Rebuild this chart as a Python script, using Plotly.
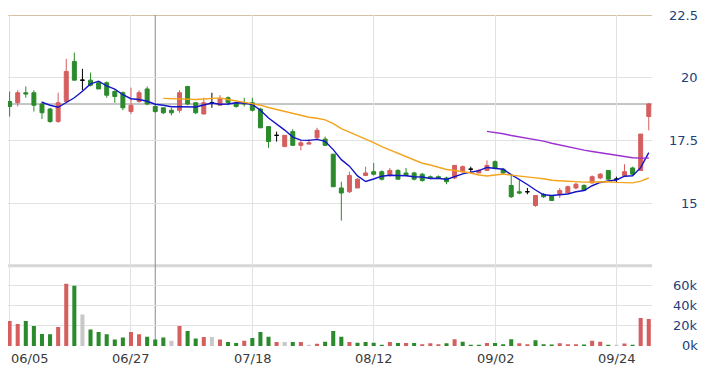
import plotly.graph_objects as go
import pandas as pd

# ---------------- data ----------------
dates = [
    "2024-06-05", "2024-06-06", "2024-06-07", "2024-06-11", "2024-06-12", "2024-06-13", "2024-06-14",
    "2024-06-17", "2024-06-18", "2024-06-19", "2024-06-20", "2024-06-21", "2024-06-24", "2024-06-25",
    "2024-06-26", "2024-06-27", "2024-06-28", "2024-07-01", "2024-07-02", "2024-07-03", "2024-07-04",
    "2024-07-05", "2024-07-08", "2024-07-09", "2024-07-10", "2024-07-11", "2024-07-12", "2024-07-15",
    "2024-07-16", "2024-07-17", "2024-07-18", "2024-07-19", "2024-07-22", "2024-07-23", "2024-07-26",
    "2024-07-29", "2024-07-30", "2024-07-31", "2024-08-01", "2024-08-02", "2024-08-05", "2024-08-06",
    "2024-08-07", "2024-08-08", "2024-08-09", "2024-08-12", "2024-08-13", "2024-08-14", "2024-08-15",
    "2024-08-16", "2024-08-19", "2024-08-20", "2024-08-21", "2024-08-22", "2024-08-23", "2024-08-26",
    "2024-08-27", "2024-08-28", "2024-08-29", "2024-08-30", "2024-09-02", "2024-09-03", "2024-09-04",
    "2024-09-05", "2024-09-06", "2024-09-09", "2024-09-10", "2024-09-11", "2024-09-12", "2024-09-13",
    "2024-09-16", "2024-09-18", "2024-09-19", "2024-09-20", "2024-09-23", "2024-09-24", "2024-09-25",
    "2024-09-26", "2024-09-27", "2024-09-30",
]

opens = [
    19.05, 19.0, 19.4, 19.4, 18.95, 18.75, 18.25, 19.05, 20.65, 19.9,
    19.9, 19.8, 19.8, 19.45, 19.4, 18.65, 19.05, 19.55, 18.85, 18.8,
    18.7, 18.7, 19.65, 19.0, 18.55, 19.0, 18.9, 19.2, 19.0, 19.0,
    19.0, 18.75, 18.05, 17.7, 17.25, 17.85, 17.3, 17.35, 17.6, 17.55,
    16.95, 15.6, 15.45, 15.6, 16.1, 16.25, 16.25, 16.1, 16.3, 16.2,
    16.2, 16.15, 16.05, 16.05, 16.0, 16.0, 16.25, 16.35, 16.2, 16.3,
    16.65, 16.35, 15.7, 15.45, 15.45, 14.9, 15.35, 15.3, 15.35, 15.4,
    15.6, 15.7, 15.8, 16.0, 16.3, 15.95, 16.1, 16.4, 16.3, 18.45,
]
highs = [
    19.45, 19.5, 19.65, 19.5, 19.05, 18.8, 19.4, 20.75, 21.0, 20.35,
    20.2, 19.85, 19.85, 19.5, 19.45, 19.6, 19.5, 19.65, 18.9, 18.8,
    18.8, 19.5, 19.65, 19.0, 19.2, 19.4, 19.3, 19.25, 19.05, 19.2,
    19.2, 18.8, 18.05, 17.85, 17.7, 17.95, 17.5, 17.55, 18.0, 17.65,
    16.95, 15.85, 16.25, 16.0, 16.45, 16.6, 16.3, 16.4, 16.35, 16.4,
    16.25, 16.2, 16.1, 16.1, 16.05, 16.5, 16.5, 16.45, 16.35, 16.7,
    16.7, 16.4, 16.1, 15.9, 15.6, 15.3, 15.4, 15.3, 15.6, 15.7,
    15.8, 15.75, 16.1, 16.2, 16.3, 16.05, 16.55, 16.45, 17.75, 19.0,
]
lows = [
    18.45, 18.85, 19.2, 18.65, 18.35, 18.2, 18.2, 19.05, 19.9, 19.5,
    19.65, 19.55, 19.2, 19.0, 18.7, 18.55, 19.0, 18.9, 18.6, 18.55,
    18.5, 18.6, 18.9, 18.55, 18.55, 18.8, 18.9, 18.9, 18.8, 18.85,
    18.65, 18.0, 17.2, 17.45, 17.25, 17.3, 17.1, 17.35, 17.55, 17.3,
    15.65, 14.3, 15.4, 15.6, 16.1, 16.1, 15.9, 16.05, 15.95, 16.1,
    15.9, 15.85, 15.95, 15.95, 15.75, 15.95, 16.2, 16.2, 16.2, 16.3,
    16.35, 16.15, 15.2, 15.35, 15.35, 14.85, 15.2, 15.1, 15.2, 15.4,
    15.55, 15.5, 15.8, 15.95, 15.9, 15.8, 16.05, 16.1, 16.3, 17.9,
]
closes = [
    18.85, 19.4, 19.35, 18.9, 18.6, 18.25, 19.0, 20.25, 19.9, 19.9,
    19.7, 19.55, 19.3, 19.25, 18.8, 18.9, 19.4, 18.95, 18.65, 18.6,
    18.6, 19.4, 18.95, 18.6, 19.0, 19.0, 19.15, 19.0, 18.85, 18.95,
    18.7, 18.0, 17.45, 17.7, 17.7, 17.3, 17.4, 17.4, 17.9, 17.3,
    15.65, 15.4, 16.1, 15.95, 16.2, 16.15, 15.95, 16.3, 15.95, 16.1,
    15.95, 15.9, 16.0, 16.0, 15.85, 16.5, 16.45, 16.35, 16.3, 16.5,
    16.4, 16.2, 15.25, 15.4, 15.45, 15.3, 15.25, 15.1, 15.5, 15.65,
    15.75, 15.5, 16.05, 16.15, 15.95, 15.95, 16.25, 16.15, 17.75, 18.95,
]
# volume in thousands of shares
volume_k = [
    25, 22, 25, 20, 12, 11.7, 19, 62, 60, 31.5,
    16.4, 14, 11.8, 6.6, 8.5, 14, 11.8, 9.2, 6.6, 8.5,
    5.3, 20, 15, 7.5, 8.9, 8.9, 6.5, 3.9, 3.0, 5.2,
    7.9, 14, 9.2, 3.9, 4.0, 4.0, 4.0, 1.0, 2.3, 4.3,
    15, 9.2, 4.0, 3.3, 4.0, 3.3, 1.3, 4.0, 3.0, 3.0,
    3.0, 1.7, 2.7, 1.7, 2.7, 6.7, 4.3, 1.3, 1.3, 3.0,
    3.0, 1.7, 6.7, 2.7, 1.7, 5.7, 1.7, 1.5, 2.7, 1.7,
    1.7, 1.5, 5.3, 4.3, 0.4, 0.4, 2.5, 1.0, 28, 27,
]
# u = up (red), d = down (green), n = unchanged (gray)
volume_dir = ("uudddduudn" "ddddduuddd" "nuddunuddu" "dddundunud"
              "dduddddudu" "duuududddu" "ddduuddduu" "uduudnuduu")

tick_index = [0, 15, 30, 45, 60, 75]
tick_text = ["06/05", "06/27", "07/18", "08/12", "09/02", "09/24"]
price_ticks = [15, 17.5, 20, 22.5]
volume_ticks = [0, 20, 40, 60]
ma_windows = [5, 20, 60]
cursor_index = 18

# ---------------- styles ----------------
RED = "#d55e5e"
GREEN = "#2b8a2b"
GRAY = "#c8c8c8"
MA_COLORS = {5: "#1414c8", 20: "#f4a41c", 60: "#9b30d0"}
GRID = "#e2e2e2"
AXIS_TXT = "#23407a"
X_TXT = "#3a3a3a"
FONT = "DejaVu Sans"

n = len(dates)
non_doji = [i for i in range(n) if opens[i] != closes[i]]
doji = [i for i in range(n) if opens[i] == closes[i]]

fig = go.Figure()

fig.add_trace(go.Candlestick(
    x=[dates[i] for i in non_doji],
    open=[opens[i] for i in non_doji], high=[highs[i] for i in non_doji],
    low=[lows[i] for i in non_doji], close=[closes[i] for i in non_doji],
    increasing=dict(line=dict(color=RED, width=1), fillcolor=RED),
    decreasing=dict(line=dict(color=GREEN, width=1), fillcolor=GREEN),
    xaxis="x", yaxis="y", showlegend=False, hoverinfo="skip",
))
fig.add_trace(go.Candlestick(
    x=[dates[i] for i in doji],
    open=[opens[i] for i in doji], high=[highs[i] for i in doji],
    low=[lows[i] for i in doji], close=[closes[i] for i in doji],
    increasing=dict(line=dict(color="#000000", width=1), fillcolor="#000000"),
    decreasing=dict(line=dict(color="#000000", width=1), fillcolor="#000000"),
    xaxis="x", yaxis="y", showlegend=False, hoverinfo="skip",
))

close_series = pd.Series(closes)
for w in ma_windows:
    ma = close_series.rolling(w).mean()
    fig.add_trace(go.Scatter(
        x=dates, y=ma, mode="lines", line=dict(color=MA_COLORS[w], width=1.4),
        xaxis="x", yaxis="y", showlegend=False, hoverinfo="skip", connectgaps=False,
    ))

dir_color = {"u": RED, "d": GREEN, "n": GRAY}
fig.add_trace(go.Bar(
    x=dates, y=volume_k, marker=dict(color=[dir_color[c] for c in volume_dir], line=dict(width=0)),
    width=0.5, xaxis="x", yaxis="y2", showlegend=False, hoverinfo="skip",
))

split = 0.2426  # boundary between volume pane and price pane (paper coords)

# the page body adds an 8px offset, so the figure is drawn 8px smaller
fig.update_layout(
    width=704, height=362,
    margin=dict(l=0, r=60, t=7, b=24),
    paper_bgcolor="white", plot_bgcolor="white",
    font=dict(family=FONT, size=13),
    xaxis=dict(
        type="category", categoryorder="array", categoryarray=dates,
        range=[-0.2, n - 0.6], anchor="y2",
        tickvals=[dates[i] for i in tick_index], showticklabels=False,
        showgrid=True, gridcolor=GRID, gridwidth=1, zeroline=False,
        showline=False, ticks="", rangeslider=dict(visible=False), fixedrange=True,
    ),
    yaxis=dict(
        domain=[split, 1], range=[12.5, 22.5], tickvals=price_ticks[:-1],
        showticklabels=False, showgrid=True, gridcolor=GRID, gridwidth=1,
        zeroline=False, showline=False, ticks="", fixedrange=True,
    ),
    yaxis2=dict(
        domain=[0, split], range=[0, 80], tickvals=volume_ticks[1:],
        showticklabels=False, showgrid=True, gridcolor=GRID, gridwidth=1,
        zeroline=False, showline=False, ticks="", fixedrange=True,
    ),
    showlegend=False,
)

shapes = [
    # pane separator
    dict(type="line", xref="paper", yref="paper", x0=0, x1=1, y0=split, y1=split,
         line=dict(color="#d6d6d6", width=3), layer="below"),
    # top line at the highest price tick
    dict(type="line", xref="paper", yref="y", x0=0, x1=1, y0=price_ticks[-1], y1=price_ticks[-1],
         line=dict(color="#c4ad82", width=1.3), layer="below"),
    # last-price line
    dict(type="line", xref="paper", yref="y", x0=0, x1=1, y0=closes[-1], y1=closes[-1],
         line=dict(color="#8a8a8a", width=1), layer="below"),
    # cursor line
    dict(type="line", xref="x", yref="paper", x0=dates[cursor_index], x1=dates[cursor_index],
         y0=0, y1=1, line=dict(color="#8a8a8a", width=1), layer="below"),
]
fig.update_layout(shapes=shapes)

ann = []
for v in price_ticks:
    ann.append(dict(text=f"{v:g}", xref="paper", yref="y", x=1.0745, y=v,
                    xanchor="right", yanchor="middle", showarrow=False,
                    font=dict(family=FONT, size=13, color=AXIS_TXT)))
for v in volume_ticks:
    ann.append(dict(text=f"{v}k", xref="paper", yref="y2", x=1.0745, y=v,
                    xanchor="right", yanchor="middle", showarrow=False,
                    font=dict(family=FONT, size=13, color=AXIS_TXT)))
for k, (i, t) in enumerate(zip(tick_index, tick_text)):
    ann.append(dict(text=t, xref="x", yref="paper", x=dates[i], y=0,
                    xanchor="left" if k == 0 else "center", xshift=-1 if k == 0 else 0,
                    yanchor="top", yshift=-3, showarrow=False,
                    font=dict(family=FONT, size=13, color=X_TXT)))
fig.update_layout(annotations=ann)

fig.write_html("out.html")
